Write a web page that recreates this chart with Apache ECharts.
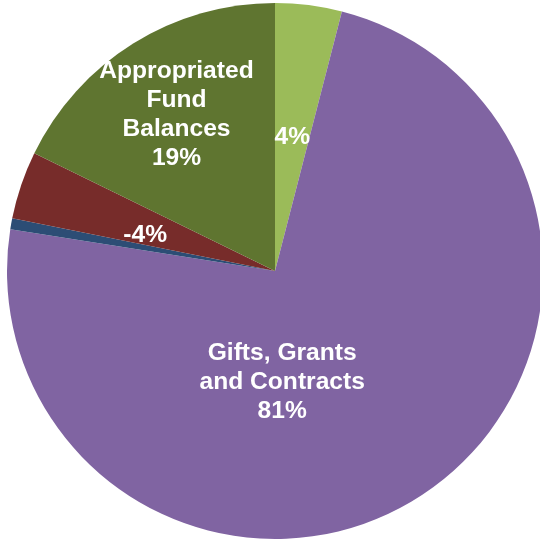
<!DOCTYPE html>
<html>
<head>
<meta charset="utf-8">
<script src="https://cdn.jsdelivr.net/npm/echarts@6/dist/echarts.min.js"></script>
<style>
  html, body { margin: 0; padding: 0; background: #ffffff; }
  #chart { width: 540px; height: 540px; }
</style>
</head>
<body>
<div id="chart"></div>
<script>
// Slice names (line-broken as displayed; empty = percentage only)
const categories = [
  '',
  'Gifts, Grants\nand Contracts',
  '',
  '',
  'Appropriated\nFund\nBalances'
];
// Share of total, in percent (negative share drawn by its magnitude)
const shares = [4.4, 80.5, 0.72, -4.49, 19.45];
// Whether each slice carries a label
const showLabel = [true, true, false, true, true];
const colors = ['#9BBB59', '#8064A2', '#2C4D75', '#772C2A', '#5F7530'];
// Label nudges from the default inside position
const labelOffsets = [[0, 2], [-68, -3], [0, 0], [0, 8], [-26, -40]];

const data = shares.map((v, i) => ({
  name: categories[i] || ('slice' + i),
  value: Math.abs(v),
  itemStyle: { color: colors[i] },
  label: {
    show: showLabel[i],
    offset: labelOffsets[i],
    formatter: () => (categories[i] ? categories[i] + '\n' : '') + Math.round(v) + '%'
  }
}));

const chart = echarts.init(document.getElementById('chart'), null, { renderer: 'canvas' });
chart.setOption({
  animation: false,
  series: [{
    type: 'pie',
    center: [275, 271],
    radius: 268,
    startAngle: 90,
    clockwise: true,
    avoidLabelOverlap: false,
    emphasis: { disabled: true },
    itemStyle: { borderWidth: 0 },
    label: {
      position: 'inside',
      color: '#ffffff',
      fontFamily: '"Liberation Sans", Arial, sans-serif',
      fontWeight: 'bold',
      fontSize: 24.6,
      lineHeight: 29,
      align: 'center'
    },
    labelLine: { show: false },
    data: data
  }]
});
</script>
</body>
</html>
